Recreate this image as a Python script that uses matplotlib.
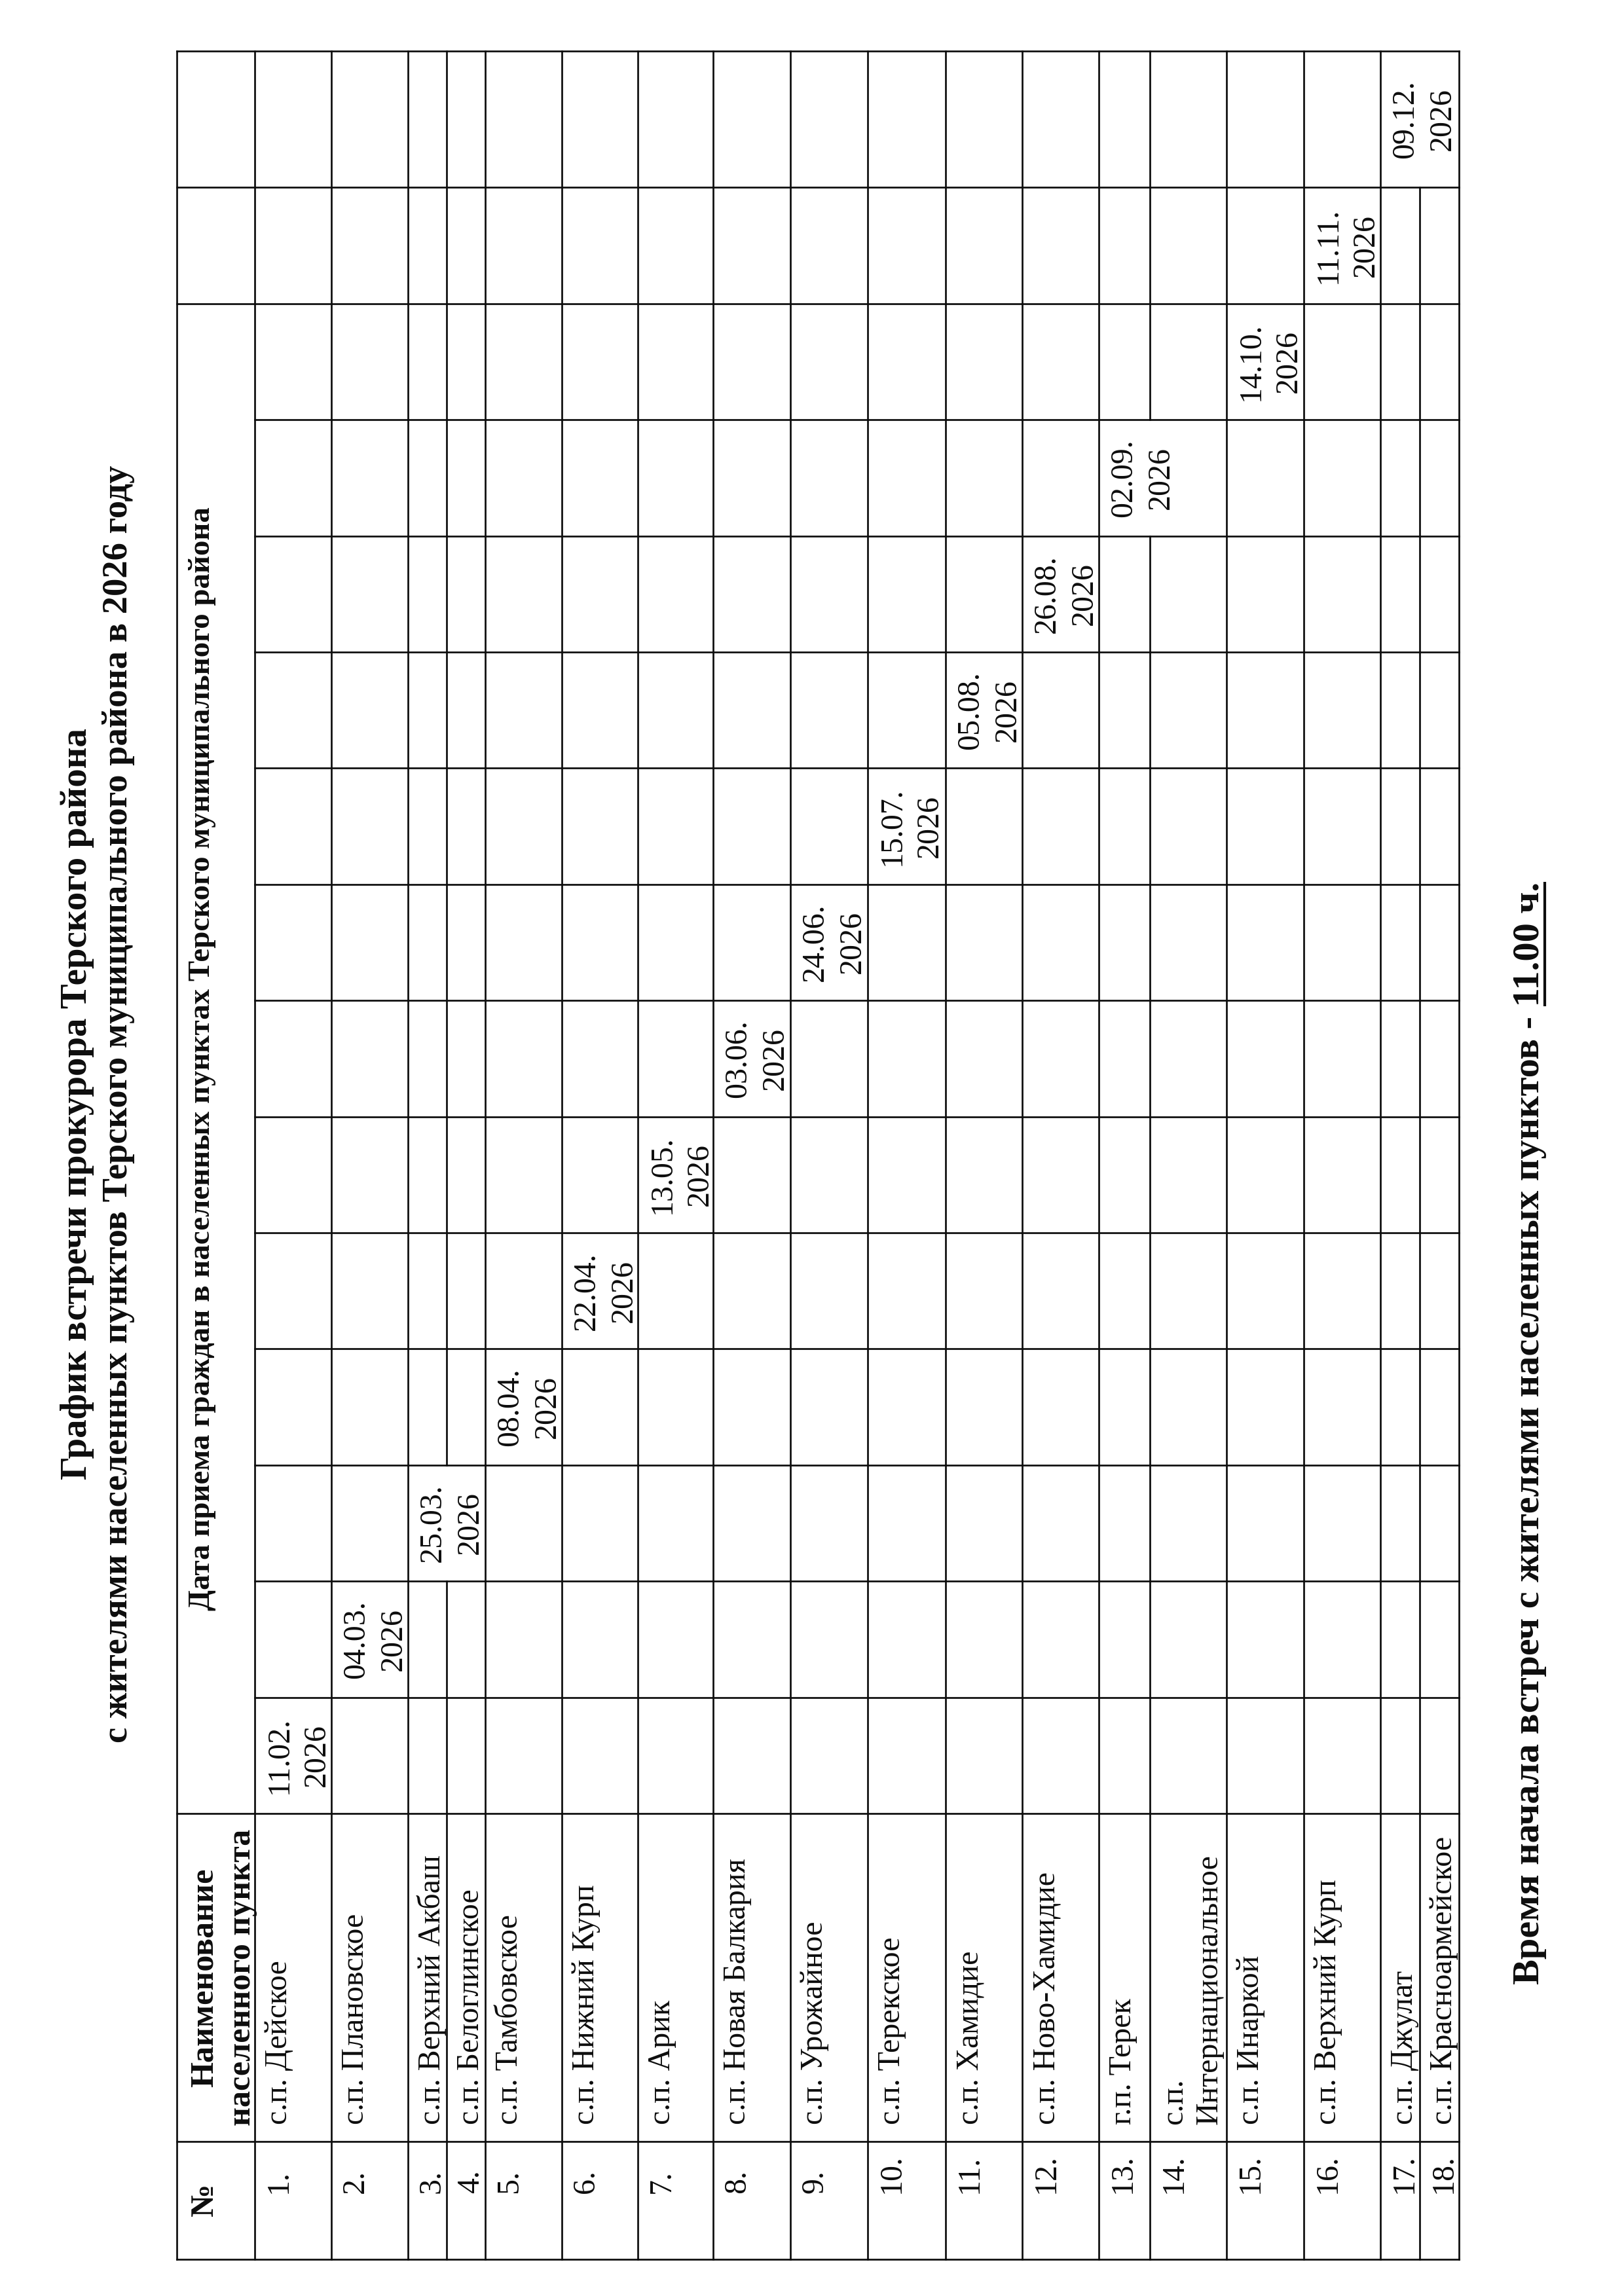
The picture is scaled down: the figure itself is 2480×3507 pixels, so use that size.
import numpy as np
import matplotlib
matplotlib.use('Agg')
import matplotlib.pyplot as plt

W, H, DPI = 2480, 3507, 300
plt.rcParams['font.family'] = ['Liberation Serif', 'DejaVu Serif']

# --- data ---
title_lines = ['График встречи прокурора Терского района',
               'с жителями населенных пунктов Терского муниципального района в 2026 году']
head_num = '№'
head_name = ['Наименование', 'населенного пункта']
head_dates = 'Дата приема граждан в населенных пунктах Терского муниципального района'
nums = ['1.', '2.', '3.', '4.', '5.', '6.', '7.', '8.', '9.', '10.',
        '11.', '12.', '13.', '14.', '15.', '16.', '17.', '18.']
names = ['с.п. Дейское', 'с.п. Плановское', 'с.п. Верхний Акбаш', 'с.п. Белоглинское',
         'с.п. Тамбовское', 'с.п. Нижний Курп', 'с.п. Арик', 'с.п. Новая Балкария',
         'с.п. Урожайное', 'с.п. Терекское', 'с.п. Хамидие', 'с.п. Ново-Хамидие',
         'г.п. Терек', 'с.п.\nИнтернациональное', 'с.п. Инаркой', 'с.п. Верхний Курп',
         'с.п. Джулат', 'с.п. Красноармейское']
dates = ['11.02.', '04.03.', '25.03.', '08.04.', '22.04.', '13.05.', '03.06.', '24.06.',
         '15.07.', '05.08.', '26.08.', '02.09.', '14.10.', '11.11.', '09.12.']
year = '2026'
date_row = [0, 1, 2, 4, 5, 6, 7, 8, 9, 10, 11, 12, 14, 15, 16]
date_span = [1, 1, 2, 1, 1, 1, 1, 1, 1, 1, 1, 2, 1, 1, 2]
footer_main = 'Время начала встреч с жителями населенных пунктов - '
footer_time = '11.00 ч.'

# --- layout (page is rotated: logical rows run along image x) ---
row_h = [119, 117, 117, 59, 59, 117, 116, 115, 118, 118, 119, 117, 117, 78, 117, 118, 117, 60, 60]
x_edges = 270 + np.concatenate([[0], np.cumsum(row_h)])
col_w = [180, 501] + [177.4] * 14 + [208.4]
y_edges = 3451 - np.concatenate([[0], np.cumsum(col_w)])
n_merged = 13  # date columns covered by the merged header cell
INK = '#0d0d0d'

fig = plt.figure(figsize=(W / DPI, H / DPI), dpi=DPI)
fig.patch.set_facecolor('white')
ax = fig.add_axes([0, 0, 1, 1])
ax.set_xlim(0, W)
ax.set_ylim(H, 0)
ax.axis('off')

line_kw = dict(color=INK, lw=0.65, solid_capstyle='projecting')


def put(xb, y, lines, pitch, ha='left', size=11.5, weight='normal'):
    for i, s in enumerate(lines):
        ax.text(xb + i * pitch, y, s, rotation=90, rotation_mode='anchor',
                ha=ha, va='baseline', fontsize=size, fontweight=weight, color=INK)


# horizontal lines in the image (logical column borders)
for j, y in enumerate(y_edges):
    x0 = x_edges[1] if 3 <= j < 2 + n_merged else x_edges[0]
    ax.plot([x0, x_edges[-1]], [y, y], **line_kw)

# vertical lines in the image (logical row borders), merged date cells left open
gaps = {}
for k, (r, sp) in enumerate(zip(date_row, date_span)):
    if sp == 2:
        gaps.setdefault(r + 2, []).append((y_edges[2 + k + 1], y_edges[2 + k]))
for i, x in enumerate(x_edges):
    segs = [(y_edges[-1], y_edges[0])]
    for g0, g1 in gaps.get(i, []):
        new = []
        for a, b in segs:
            if g1 <= a or g0 >= b:
                new.append((a, b))
            else:
                if a < g0:
                    new.append((a, g0))
                if g1 < b:
                    new.append((g1, b))
        segs = new
    for a, b in segs:
        ax.plot([x, x], [a, b], **line_kw)

# title
put(132, 1686, [title_lines[0]], 0, ha='center', size=13.65, weight='bold')
put(194, 1686, [title_lines[1]], 0, ha='center', size=13.1, weight='bold')

# header cells
hx = x_edges[0] + 55
put(hx, (y_edges[0] + y_edges[1]) / 2, [head_num], 0, ha='center', size=12, weight='bold')
put(hx, (y_edges[1] + y_edges[2]) / 2, head_name, 57, ha='center', size=12, weight='bold')
put(x_edges[0] + 50, (y_edges[2] + y_edges[2 + n_merged]) / 2, [head_dates], 0,
    ha='center', size=11.25, weight='bold')

# rows
for r, (n, name) in enumerate(zip(nums, names)):
    xb = x_edges[r + 1] + 49
    put(xb, 3350, [n], 0)
    put(xb, y_edges[1] - 26, name.split('\n'), 54)

# dates
for k, (d, r) in enumerate(zip(dates, date_row)):
    yc = (y_edges[2 + k] + y_edges[2 + k + 1]) / 2
    put(x_edges[r + 1] + 50, yc, [d, year], 57, ha='center')

# footer with underlined time
fb = 2350
t_full = ax.text(fb, 3031, footer_main + footer_time, rotation=90, rotation_mode='anchor',
                 ha='left', va='baseline', fontsize=14, fontweight='bold', color=INK)
t_part = ax.text(fb, 3031, footer_time, rotation=90, rotation_mode='anchor',
                 ha='left', va='baseline', fontsize=14, fontweight='bold', alpha=0)
renderer = fig.canvas.get_renderer()
bb_full = t_full.get_window_extent(renderer)
bb_part = t_part.get_window_extent(renderer)
t_part.remove()
inv = ax.transData.inverted()
y_top = inv.transform((0, bb_full.y1))[1]
y_start = inv.transform((0, bb_full.y1 - bb_part.height))[1]
ax.plot([fb + 9, fb + 9], [y_start, y_top], color=INK, lw=1.0, solid_capstyle='butt')

fig.savefig('out.png', dpi=DPI, facecolor='white')
